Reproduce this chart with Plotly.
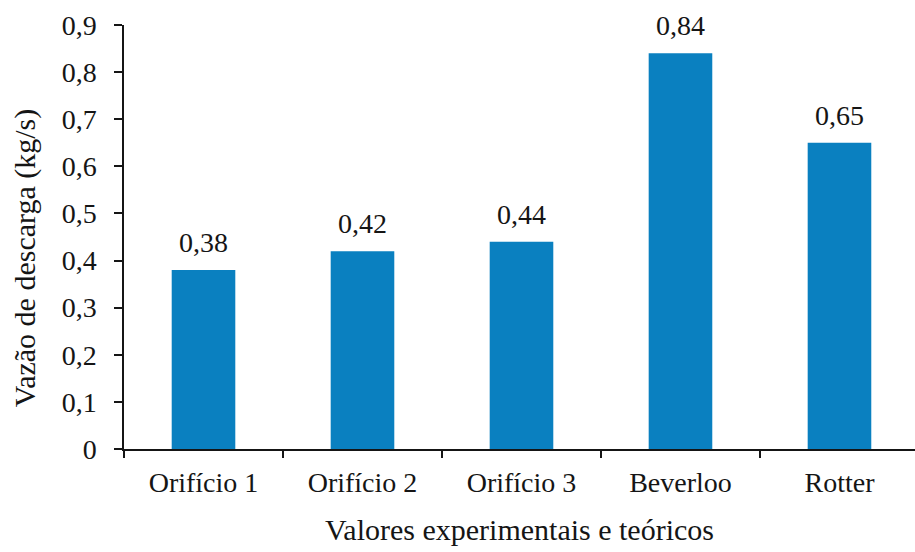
import plotly.graph_objects as go

categories = ["Orifício 1", "Orifício 2", "Orifício 3", "Beverloo", "Rotter"]
values = [0.38, 0.42, 0.44, 0.84, 0.65]
y_ticks = [0, 0.1, 0.2, 0.3, 0.4, 0.5, 0.6, 0.7, 0.8, 0.9]
x_title = "Valores experimentais e teóricos"
y_title = "Vazão de descarga (kg/s)"

font_family = "Liberation Serif"
text_color = "#151515"
bar_color = "#0A80C0"

fig = go.Figure(
    go.Bar(
        x=categories,
        y=values,
        marker=dict(color=bar_color, line=dict(width=0)),
        width=0.4,
        hoverinfo="x+y",
    )
)

# value labels above each bar
for cat, val in zip(categories, values):
    fig.add_annotation(
        x=cat, y=val, text=f"{val:.2f}".replace(".", ","),
        showarrow=False, yanchor="bottom", yshift=10,
        font=dict(family=font_family, size=28, color=text_color),
    )

# vertical axis title, set slightly below the plot's centre
fig.add_annotation(
    xref="paper", yref="paper", x=0, y=0.45,
    xanchor="center", yanchor="middle", xshift=-99,
    text=y_title, textangle=-90, showarrow=False,
    font=dict(family=font_family, size=30, color=text_color),
)

fig.update_layout(
    width=915, height=552,
    margin=dict(l=124, r=0, t=25, b=103),
    paper_bgcolor="white", plot_bgcolor="white",
    separators=",.",
    showlegend=False,
    font=dict(family=font_family, size=28, color=text_color),
    xaxis=dict(
        type="category",
        range=[-0.5, 4.475],
        showline=True, linecolor=text_color, linewidth=1.5,
        ticks="outside", tickson="boundaries", ticklen=7, tickwidth=1.5, tickcolor=text_color,
        ticklabelstandoff=8,
        showgrid=False, zeroline=False,
        tickfont=dict(family=font_family, size=28, color=text_color),
        title=dict(text=x_title,
                   font=dict(family=font_family, size=30, color=text_color), standoff=22),
    ),
    yaxis=dict(
        range=[0, 0.9],
        tickvals=y_ticks,
        showline=True, linecolor=text_color, linewidth=1.5,
        ticks="outside", ticklen=8, tickwidth=1.5, tickcolor=text_color,
        ticklabelstandoff=12,
        showgrid=False, zeroline=False,
        tickfont=dict(family=font_family, size=28, color=text_color),
    ),
)

fig.write_html("out.html")
